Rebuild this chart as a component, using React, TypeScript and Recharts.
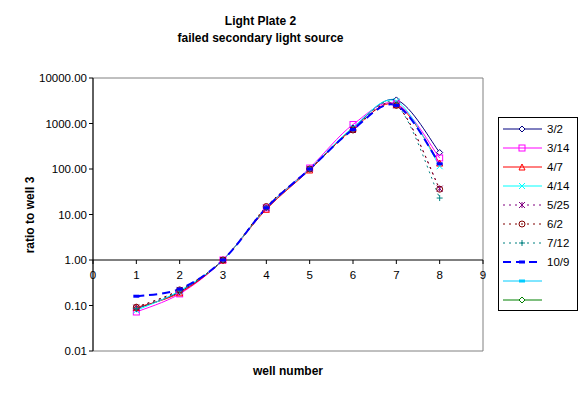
import React from "react";
import {
  LineChart,
  Line,
  XAxis,
  YAxis,
  ReferenceLine,
  ReferenceArea,
  ReferenceDot,
} from "recharts";

const wells = [1, 2, 3, 4, 5, 6, 7, 8];
const xTicks = [0, 1, 2, 3, 4, 5, 6, 7, 8, 9];
const yTicks = [0.01, 0.1, 1, 10, 100, 1000, 10000];

const s3_2 = [0.085, 0.2, 1, 14, 100, 800, 3300, 230];
const s3_14 = [0.072, 0.18, 1, 14, 105, 950, 2700, 175];
const s4_7 = [0.09, 0.19, 1, 13, 95, 760, 2600, 135];
const s4_14 = [0.078, 0.21, 1, 14, 100, 820, 3100, 115];
const s5_25 = [0.09, 0.22, 1, 14, 100, 720, 2500, 37];
const s6_2 = [0.092, 0.22, 1, 15, 100, 720, 2500, 36];
const s7_12 = [0.085, 0.21, 1, 14, 100, 750, 2600, 23];
const s10_9 = [0.16, 0.23, 1, 14, 100, 740, 2500, 130];

interface Series {
  key: string;
  name: string;
  values: number[];
  color: string;
  dash?: string;
  width?: number;
  marker: string;
}

const series: Series[] = [
  { key: "a", name: "3/2", values: s3_2, color: "#000080", marker: "diamond" },
  { key: "b", name: "3/14", values: s3_14, color: "#FF00FF", marker: "square" },
  { key: "c", name: "4/7", values: s4_7, color: "#FF0000", marker: "triangle" },
  { key: "d", name: "4/14", values: s4_14, color: "#00FFFF", marker: "x" },
  { key: "e", name: "5/25", values: s5_25, color: "#800080", dash: "2 4", marker: "star" },
  { key: "f", name: "6/2", values: s6_2, color: "#800000", dash: "2 4", marker: "circle" },
  { key: "g", name: "7/12", values: s7_12, color: "#008080", dash: "2 4", marker: "plus" },
  { key: "h", name: "10/9", values: s10_9, color: "#0000FF", dash: "8 5", width: 2, marker: "bar" },
];

// two empty series that only show up in the legend
const legendOnly = [
  { name: "", color: "#00CCFF", marker: "bar" },
  { name: "", color: "#008000", marker: "diamond" },
];

const data = wells.map((w, i) => {
  const row: { [k: string]: number } = { x: w };
  series.forEach((s) => (row[s.key] = s.values[i]));
  return row;
});

// Excel style smoothing (catmull-rom like bezier)
const excelSmooth = (context: any) => {
  let pts: number[][] = [];
  return {
    areaStart() {},
    areaEnd() {},
    lineStart() {
      pts = [];
    },
    point(x: number, y: number) {
      pts.push([+x, +y]);
    },
    lineEnd() {
      if (!pts.length) return;
      context.moveTo(pts[0][0], pts[0][1]);
      for (let i = 0; i < pts.length - 1; i++) {
        const p0 = pts[Math.max(i - 1, 0)];
        const p1 = pts[i];
        const p2 = pts[i + 1];
        const p3 = pts[Math.min(i + 2, pts.length - 1)];
        context.bezierCurveTo(
          p1[0] + (p2[0] - p0[0]) / 6,
          p1[1] + (p2[1] - p0[1]) / 6,
          p2[0] - (p3[0] - p1[0]) / 6,
          p2[1] - (p3[1] - p1[1]) / 6,
          p2[0],
          p2[1]
        );
      }
    },
  };
};

const Marker = ({ cx, cy, kind, color }: { cx: number; cy: number; kind: string; color: string }) => {
  const r = 3;
  switch (kind) {
    case "diamond":
      return <path d={`M${cx},${cy - r} L${cx + r},${cy} L${cx},${cy + r} L${cx - r},${cy} Z`} fill="#fff" stroke={color} />;
    case "square":
      return <rect x={cx - r} y={cy - r} width={2 * r} height={2 * r} fill="none" stroke={color} />;
    case "triangle":
      return <path d={`M${cx},${cy - r} L${cx + r},${cy + r} L${cx - r},${cy + r} Z`} fill="none" stroke={color} />;
    case "x":
      return <path d={`M${cx - r},${cy - r} L${cx + r},${cy + r} M${cx + r},${cy - r} L${cx - r},${cy + r}`} stroke={color} />;
    case "star":
      return (
        <path
          d={`M${cx - r},${cy - r} L${cx + r},${cy + r} M${cx + r},${cy - r} L${cx - r},${cy + r} M${cx},${cy - r} L${cx},${cy + r}`}
          stroke={color}
        />
      );
    case "circle":
      return <circle cx={cx} cy={cy} r={r} fill="none" stroke={color} />;
    case "plus":
      return <path d={`M${cx - r},${cy} L${cx + r},${cy} M${cx},${cy - r} L${cx},${cy + r}`} stroke={color} />;
    case "bar":
      return <rect x={cx - r} y={cy - 1.5} width={2 * r} height={3} fill={color} />;
    default:
      return null;
  }
};

const font = "'Liberation Sans', Arial, sans-serif";

const LegendBox = () => {
  const items = [
    ...series.map((s) => ({ name: s.name, color: s.color, marker: s.marker, dash: s.dash, width: s.width })),
    ...legendOnly.map((s) => ({ ...s, dash: undefined, width: undefined })),
  ];
  return (
    <svg width={80} height={194} style={{ display: "block" }}>
      <rect x={0.5} y={0.5} width={79} height={193} fill="#fff" stroke="#000" />
      {items.map((it, i) => {
        const y = 12 + i * 19;
        return (
          <g key={i}>
            <line x1={5} x2={44} y1={y} y2={y} stroke={it.color} strokeWidth={it.width || 1} strokeDasharray={it.dash} />
            <Marker cx={24} cy={y} kind={it.marker} color={it.color} />
            <text x={49} y={y + 4} fontSize={11.5} fontFamily={font} fill="#000">
              {it.name}
            </text>
          </g>
        );
      })}
    </svg>
  );
};

const XTick = (props: any) => {
  const { cx, cy, label } = props;
  return (
    <g>
      <line x1={cx} x2={cx} y1={cy} y2={cy + 4} stroke="#000" />
      <text x={cx} y={cy + 19} textAnchor="middle" fontSize={11.5} fontFamily={font} fill="#000">
        {label}
      </text>
    </g>
  );
};

const App: React.FC = () => {
  return (
    <div style={styles.page}>
      <div style={{ ...styles.title, top: 14 }}>Light Plate 2</div>
      <div style={{ ...styles.title, top: 31 }}>failed secondary light source</div>
      <div style={styles.yLabel}>ratio to well 3</div>
      <div style={styles.xLabel}>well number</div>
      <div style={styles.legend}>
        <LegendBox />
      </div>
      <LineChart width={581} height={399} data={data} margin={{ top: 78, right: 98, bottom: 48, left: 33 }}>
        <XAxis dataKey="x" type="number" domain={[0, 9]} ticks={xTicks} hide />
        <YAxis
          type="number"
          scale="log"
          domain={[0.01, 10000]}
          ticks={yTicks}
          interval={0}
          allowDataOverflow
          width={60}
          axisLine={{ stroke: "#000" }}
          tickLine={{ stroke: "#000" }}
          tickSize={4}
          tick={{ fill: "#000", fontSize: 11.5, fontFamily: font }}
          tickFormatter={(v: number) => v.toFixed(2)}
        />
        <ReferenceArea x1={0} x2={9} y1={0.01} y2={10000} fill="none" stroke="#808080" ifOverflow="visible" />
        <ReferenceLine y={1} stroke="#000" ifOverflow="visible" />
        {xTicks.map((t) => (
          <ReferenceDot
            key={t}
            x={t}
            y={1}
            r={0}
            ifOverflow="visible"
            shape={(p: any) => <XTick {...p} label={String(t)} />}
          />
        ))}
        {series.map((s) => (
          <Line
            key={s.key}
            dataKey={s.key}
            name={s.name}
            type={excelSmooth as any}
            stroke={s.color}
            strokeWidth={s.width || 1}
            strokeDasharray={s.dash}
            isAnimationActive={false}
            dot={(p: any) => <Marker key={`${s.key}-${p.index}`} cx={p.cx} cy={p.cy} kind={s.marker} color={s.color} />}
            activeDot={false}
          />
        ))}
      </LineChart>
    </div>
  );
};

const styles: { [key: string]: React.CSSProperties } = {
  page: {
    position: "absolute",
    left: 0,
    top: 0,
    width: 581,
    height: 399,
    background: "#fff",
    fontFamily: font,
  },
  title: {
    position: "absolute",
    left: 0,
    width: 521,
    textAlign: "center",
    fontSize: 12,
    fontWeight: "bold",
    lineHeight: "15px",
  },
  yLabel: {
    position: "absolute",
    left: 30,
    top: 215,
    fontSize: 12,
    fontWeight: "bold",
    whiteSpace: "nowrap",
    transform: "translate(-50%, -50%) rotate(-90deg)",
  },
  xLabel: {
    position: "absolute",
    left: 288,
    top: 371,
    fontSize: 12,
    fontWeight: "bold",
    whiteSpace: "nowrap",
    transform: "translate(-50%, -50%)",
  },
  legend: {
    position: "absolute",
    left: 498,
    top: 117,
    zIndex: 1,
  },
};

export default App;
